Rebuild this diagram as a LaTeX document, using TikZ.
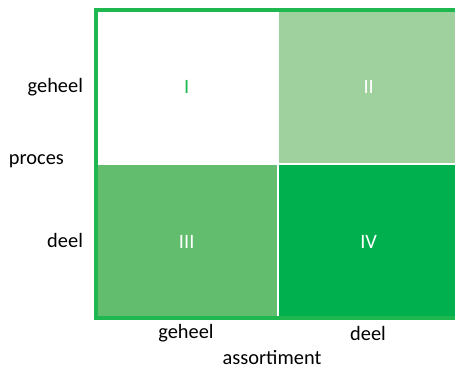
\documentclass[tikz,border=0pt]{standalone}
\usepackage{fontspec}
\setmainfont{Carlito}
\definecolor{kader}{RGB}{30,183,80}
\definecolor{licht}{RGB}{158,209,158}
\definecolor{midden}{RGB}{99,189,111}
\definecolor{donker}{RGB}{0,176,79}
\begin{document}
\begin{tikzpicture}[every node/.style={font=\fontsize{14.5pt}{17pt}\selectfont},
  vak/.style={rectangle,inner sep=0pt,outer sep=0pt,minimum height=3.83cm}]
\useasboundingbox (0,0) rectangle (11.375,9.2);

\node (I) at (2.4,8.95) [vak,anchor=north west,fill=white,minimum width=4.535cm,text=kader] {I};
\node (II) at (6.985,8.95) [vak,anchor=north west,fill=licht,minimum width=4.465cm,text=white] {II};
\node (III) at (2.4,1.25) [vak,anchor=south west,fill=midden,minimum width=4.535cm,minimum height=3.82cm,text=white] {III};
\node (IV) at (6.985,1.25) [vak,anchor=south west,fill=donker,minimum width=4.465cm,minimum height=3.82cm,text=white] {IV};
\draw [kader,line width=2.4pt] (2.4,1.25) rectangle (11.45,8.95);

\node (pg) at (2.08,7.03) [anchor=east,inner sep=0pt] {geheel};
\node (pd) at (2.08,3.18) [anchor=east,inner sep=0pt] {deel};
\node (p) at (0.91,5.17) {proces};
\node (ag) at (4.65,0.87) {geheel};
\node (ad) at (9.2,0.87) {deel};
\node (a) at (6.8,0.27) {assortiment};

\end{tikzpicture}
\end{document}
